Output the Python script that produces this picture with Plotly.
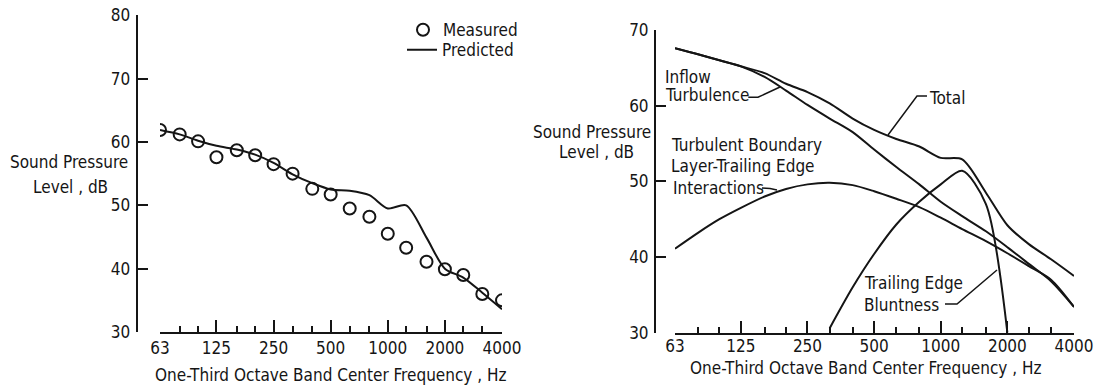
import math
import plotly.graph_objects as go

W, H = 1099, 390
FONT = "Liberation Sans Narrow, DejaVu Sans Condensed, Arial Narrow, sans-serif"
INK = "#151515"

# One-third octave band centre frequencies, Hz
bands = [63, 80, 100, 125, 160, 200, 250, 315, 400, 500, 630, 800,
         1000, 1250, 1600, 2000, 2500, 3150, 4000]
major_ticks = [63, 125, 250, 500, 1000, 2000, 4000]
major_text = ["63", "125", "250", "500", "1000", "2000", "4000"]
minor_ticks = [f for f in bands if f not in major_ticks]

# Left panel: measured vs predicted spectrum, dB
measured = [61.9, 61.2, 60.1, 57.6, 58.7, 57.9, 56.5, 55.0, 52.6, 51.7,
            49.5, 48.2, 45.5, 43.3, 41.1, 39.9, 39.0, 36.0, 35.0]
predicted = [61.9, 61.2, 60.2, 59.4, 58.8, 58.0, 56.7, 54.9, 53.5, 52.5,
             52.3, 51.6, 49.5, 50.0, 44.9, 40.0, 38.6, 36.2, 33.6]

# Right panel: noise source components, dB
inflow = [67.6, 66.8, 66.0, 65.2, 63.8, 62.0, 60.1, 58.3, 56.5, 54.2,
          51.9, 49.6, 47.3, 45.4, 43.4, 41.3, 39.1, 36.8, 33.4]
tbl_te = [41.1, 43.2, 45.0, 46.5, 48.0, 49.0, 49.6, 49.8, 49.5, 48.7,
          47.7, 46.6, 45.2, 43.7, 42.1, 40.5, 38.8, 37.0, 33.4]
total = [67.6, 66.8, 66.0, 65.2, 64.3, 62.9, 61.8, 60.3, 58.3, 56.8,
         55.6, 54.6, 53.1, 52.9, 48.5, 44.2, 41.7, 39.7, 37.5]
blunt_bands = [315, 400, 500, 630, 800, 1000, 1250, 1600, 2000]
bluntness = [30.6, 36.0, 40.4, 44.3, 47.3, 49.6, 51.4, 47.0, 30.0]


def fx(px):
    return px / W


def fy(py):
    return 1 - py / H


fig = go.Figure()

line_style = dict(color=INK, width=2, shape="spline", smoothing=0.8)

fig.add_trace(go.Scatter(
    x=bands, y=measured, mode="markers", name="Measured", legend="legend",
    marker=dict(symbol="circle-open", size=12, color=INK, line=dict(width=2, color=INK)),
    xaxis="x", yaxis="y"))
fig.add_trace(go.Scatter(
    x=bands, y=predicted, mode="lines", name="Predicted", legend="legend2",
    line=line_style, xaxis="x", yaxis="y"))

for series, xs in [(inflow, bands), (tbl_te, bands), (total, bands), (bluntness, blunt_bands)]:
    fig.add_trace(go.Scatter(
        x=xs, y=series, mode="lines", showlegend=False,
        line=line_style, xaxis="x2", yaxis="y2"))


def x_axis(dom, anchor, standoff):
    return dict(
        domain=dom, anchor=anchor, type="log", automargin=False,
        range=[math.log10(63), math.log10(4000)],
        showline=True, linecolor=INK, linewidth=2,
        ticks="inside", ticklen=12, tickwidth=2, tickcolor=INK,
        tickmode="array", tickvals=major_ticks, ticktext=major_text,
        minor=dict(tickmode="array", tickvals=minor_ticks, ticks="inside",
                   ticklen=6, tickwidth=1.5, tickcolor=INK, showgrid=False),
        showgrid=False, zeroline=False,
        tickfont=dict(family=FONT, size=17, color=INK),
        ticklabelstandoff=standoff,
    )


def y_axis(dom, rng, pos):
    return dict(
        domain=dom, anchor="free", position=pos, range=rng, automargin=False,
        showline=True, linecolor=INK, linewidth=2,
        ticks="inside", ticklen=10, tickwidth=2, tickcolor=INK,
        tickmode="array", tickvals=list(range(rng[0], rng[1] + 1, 10)),
        showgrid=False, zeroline=False,
        tickfont=dict(family=FONT, size=17, color=INK),
        ticklabelstandoff=2,
    )


legend_style = dict(xanchor="left", yanchor="top", bgcolor="rgba(0,0,0,0)",
                    borderwidth=0, itemwidth=30,
                    font=dict(family=FONT, size=17, color=INK))

fig.update_layout(
    width=W, height=H, autosize=False,
    margin=dict(l=0, r=0, t=0, b=0, autoexpand=False),
    paper_bgcolor="white", plot_bgcolor="white",
    font=dict(family=FONT, size=17, color=INK),
    xaxis=x_axis([fx(160), fx(502)], "y", 0),
    yaxis=y_axis([fy(332), fy(15.3)], [30, 80], fx(136.7)),
    xaxis2=x_axis([fx(675), fx(1074)], "y2", -3),
    yaxis2=y_axis([fy(332.7), fy(30)], [30, 70], fx(655)),
    legend=dict(x=fx(403), y=fy(12.2), **legend_style),
    legend2=dict(x=fx(402), y=fy(32.2), **legend_style),
)

# Text labels: (text, x px, y px, anchor)
labels = [
    ("Sound Pressure", 69, 162, "center"),
    ("Level , dB", 70, 186.5, "center"),
    ("One-Third Octave Band Center Frequency , Hz", 331, 375, "center"),
    ("Sound Pressure", 592, 132, "center"),
    ("Level , dB", 596, 152.5, "center"),
    ("One-Third Octave Band Center Frequency , Hz", 866, 367.5, "center"),
    ("Inflow", 662.7, 77.5, "left"),
    ("Turbulence", 662.7, 95, "left"),
    ("Turbulent Boundary", 669.3, 145, "left"),
    ("Layer-Trailing Edge", 669.3, 166, "left"),
    ("Interactions", 670.7, 187.5, "left"),
    ("Total", 927.3, 97.5, "left"),
    ("Trailing Edge", 861.7, 283.3, "left"),
    ("Bluntness", 861.7, 305, "left"),
]
for text, px, py, anc in labels:
    fig.add_annotation(text=text, x=fx(px), y=fy(py), xref="paper", yref="paper",
                       xanchor=anc, yanchor="middle", showarrow=False,
                       font=dict(family=FONT, size=17, color=INK))

# Leader lines from labels to curves
leaders = [
    [(748.3, 97.3), (758, 97.3), (780, 87)],
    [(927, 96), (917, 96), (888, 135)],
    [(762, 188), (770, 188.5), (777, 190)],
    [(945, 304), (957, 304), (997, 270)],
]
for pts in leaders:
    path = "M " + " L ".join(f"{fx(x):.5f},{fy(y):.5f}" for x, y in pts)
    fig.add_shape(type="path", path=path, xref="paper", yref="paper",
                  line=dict(color=INK, width=1.5))

fig.write_html("out.html")
